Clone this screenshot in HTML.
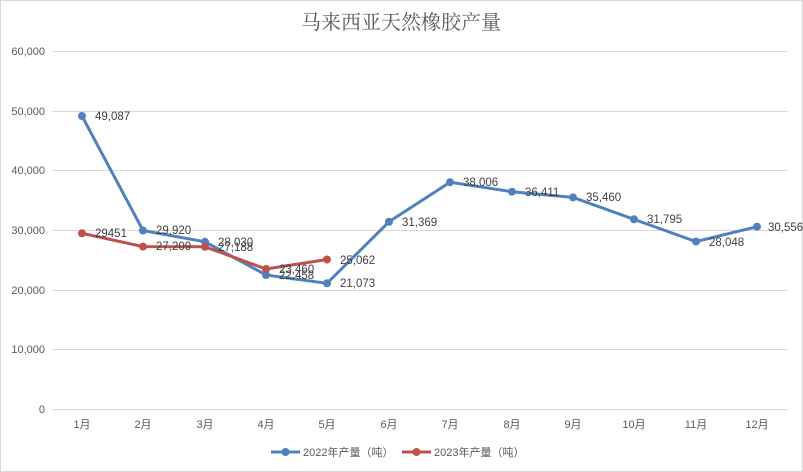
<!DOCTYPE html>
<html><head><meta charset="utf-8"><style>
html,body{margin:0;padding:0;background:#fff}
svg{display:block}
text{font-family:"Liberation Sans","Noto Sans CJK SC",sans-serif}
</style></head><body>
<svg width="803" height="472" viewBox="0 0 803 472" xmlns="http://www.w3.org/2000/svg">
<rect x="0.5" y="0.5" width="802" height="471" fill="#fff" stroke="#d9d9d9"/>
<text x="401" y="29" text-anchor="middle" font-size="20" fill="#595959" style="font-family:'Noto Serif CJK SC',serif">马来西亚天然橡胶产量</text>
<g stroke="#d9d9d9" stroke-width="1">
<line x1="52" x2="788" y1="51.5" y2="51.5"/>
<line x1="52" x2="788" y1="111.5" y2="111.5"/>
<line x1="52" x2="788" y1="170.5" y2="170.5"/>
<line x1="52" x2="788" y1="230.5" y2="230.5"/>
<line x1="52" x2="788" y1="290.5" y2="290.5"/>
<line x1="52" x2="788" y1="349.5" y2="349.5"/>
<line x1="52" x2="788" y1="409.5" y2="409.5"/>
</g>
<g font-size="11" fill="#595959" text-anchor="end">
<text x="45" y="55">60,000</text>
<text x="45" y="115">50,000</text>
<text x="45" y="174">40,000</text>
<text x="45" y="234">30,000</text>
<text x="45" y="294">20,000</text>
<text x="45" y="353">10,000</text>
<text x="45" y="413">0</text>
</g>
<g font-size="11" fill="#595959" text-anchor="middle">
<text x="82" y="428">1月</text><text x="143" y="428">2月</text><text x="205" y="428">3月</text><text x="266" y="428">4月</text><text x="327" y="428">5月</text><text x="389" y="428">6月</text><text x="450" y="428">7月</text><text x="512" y="428">8月</text><text x="573" y="428">9月</text><text x="634" y="428">10月</text><text x="696" y="428">11月</text><text x="757" y="428">12月</text>
</g>
<polyline fill="none" stroke="#4f81bd" stroke-width="3" stroke-linejoin="round" points="82,116 143,230.5 205,241.8 266,275 327,283.3 389,221.8 450,182.2 512,191.7 573,197.4 634,219.3 696,241.6 757,226.7"/>
<g fill="#4f81bd">
<circle cx="82" cy="116" r="4"/><circle cx="143" cy="230.5" r="4"/><circle cx="205" cy="241.8" r="4"/><circle cx="266" cy="275" r="4"/><circle cx="327" cy="283.3" r="4"/><circle cx="389" cy="221.8" r="4"/><circle cx="450" cy="182.2" r="4"/><circle cx="512" cy="191.7" r="4"/><circle cx="573" cy="197.4" r="4"/><circle cx="634" cy="219.3" r="4"/><circle cx="696" cy="241.6" r="4"/><circle cx="757" cy="226.7" r="4"/>
</g>
<polyline fill="none" stroke="#c0504d" stroke-width="3" stroke-linejoin="round" points="82,233.3 143,246.6 205,246.8 266,269 327,259.5"/>
<g fill="#c0504d">
<circle cx="82" cy="233.3" r="4"/><circle cx="143" cy="246.6" r="4"/><circle cx="205" cy="246.8" r="4"/><circle cx="266" cy="269" r="4"/><circle cx="327" cy="259.5" r="4"/>
</g>
<g font-size="11.5" fill="#404040">
<text x="95" y="120">49,087</text>
<text x="156" y="234">29,920</text>
<text x="218" y="246">28,030</text>
<text x="279" y="279">22,458</text>
<text x="340" y="287">21,073</text>
<text x="402" y="226">31,369</text>
<text x="463" y="186">38,006</text>
<text x="525" y="196">36,411</text>
<text x="586" y="201">35,460</text>
<text x="647" y="223">31,795</text>
<text x="709" y="246">28,048</text>
<text x="768" y="231">30,556</text>
<text x="95" y="237">29451</text>
<text x="156" y="250">27,209</text>
<text x="218" y="251">27,188</text>
<text x="279" y="273">23,460</text>
<text x="340" y="264">25,062</text>
</g>
<line x1="271" x2="300" y1="452" y2="452" stroke="#4f81bd" stroke-width="3"/>
<circle cx="285.5" cy="452" r="4" fill="#4f81bd"/>
<text x="303" y="456" font-size="11" fill="#595959">2022年产量（吨）</text>
<line x1="402" x2="431" y1="452" y2="452" stroke="#c0504d" stroke-width="3"/>
<circle cx="416.5" cy="452" r="4" fill="#c0504d"/>
<text x="434" y="456" font-size="11" fill="#595959">2023年产量（吨）</text>
</svg>
</body></html>
